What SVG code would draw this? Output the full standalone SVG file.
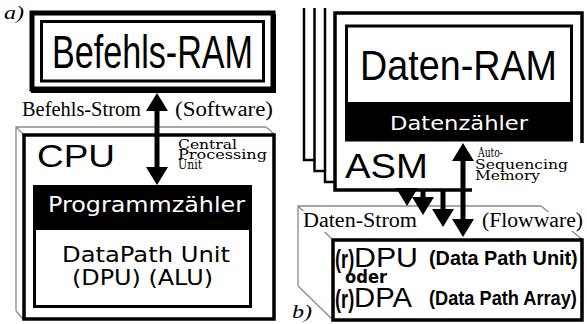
<svg xmlns="http://www.w3.org/2000/svg" xmlns:xlink="http://www.w3.org/1999/xlink" width="587" height="324" viewBox="0 0 587 324">
<style>
.serif{font-family:"Liberation Serif","Times New Roman",serif;}
.small{font-family:"DejaVu Serif","Liberation Serif",serif;}
.ital{font-family:"Liberation Serif","Times New Roman",serif;font-style:italic;}
.cond{font-family:"Liberation Sans Narrow","Liberation Sans",Arial,sans-serif;}
.condb{font-family:"Liberation Sans Narrow","Liberation Sans",Arial,sans-serif;font-weight:bold;}
.thin{font-family:"Liberation Sans",Arial,sans-serif;font-weight:300;}
.hum{font-family:"DejaVu Sans",Verdana,sans-serif;}
.humb{font-family:"DejaVu Sans",Verdana,sans-serif;font-weight:bold;}
.frame{fill:#fff;stroke:#000;}
.ghost{fill:none;stroke:#8a8a8a;stroke-width:1.3;}
.page{fill:none;stroke:#000;stroke-width:2.5;}
.shaft{stroke:#000;stroke-width:5;fill:none;}
.mask{fill:#fff;}
</style>
<defs>
  <!-- arrowhead pointing down, tip at origin -->
  <path id="ahd" d="M-11,-18 L11,-18 L0,0 Z" fill="#000"/>
</defs>
<rect width="587" height="324" fill="#fff"/>

<!-- a) -->
<text class="ital" x="4" y="19" font-size="19" textLength="20" lengthAdjust="spacingAndGlyphs">a)</text>

<g id="befehls-ram">
  <rect class="frame" x="32" y="13" width="241" height="76" stroke-width="5"/>
  <path d="M275,14 V92 H31" fill="none" stroke="#000" stroke-width="2"/>
  <rect class="frame" x="41.5" y="21.5" width="222" height="59.5" stroke-width="3"/>
  <text class="cond" x="52" y="68" font-size="46" textLength="201" lengthAdjust="spacingAndGlyphs">Befehls-RAM</text>
</g>

<text class="serif" x="22" y="116" font-size="20" textLength="119" lengthAdjust="spacingAndGlyphs">Befehls-Strom</text>
<text class="serif" x="175" y="116" font-size="20" textLength="98" lengthAdjust="spacingAndGlyphs">(Software)</text>

<g id="cpu">
  <path class="ghost" d="M16,311 V127 H266 M16,127 L23,134 M266,127 L274,134 M16,311 L23,319"/>
  <rect class="frame" x="24" y="135" width="250" height="184" stroke-width="3.5"/>
  <text class="thin" x="37" y="167" font-size="32" textLength="78" lengthAdjust="spacingAndGlyphs">CPU</text>
  <text class="small" font-size="12.5">
    <tspan x="178" y="148.5" textLength="59" lengthAdjust="spacingAndGlyphs">Central</tspan>
    <tspan x="178" y="158.5" textLength="89" lengthAdjust="spacingAndGlyphs">Processing</tspan>
    <tspan x="178" y="168.5" textLength="24" lengthAdjust="spacingAndGlyphs">Unit</tspan>
  </text>
</g>

<g id="dpu-a">
  <rect class="frame" x="34.5" y="186.5" width="216" height="120" stroke-width="3"/>
  <rect x="33" y="185" width="219" height="45" fill="#000"/>
  <text class="hum" x="48" y="212" font-size="21" fill="#fff" textLength="197" lengthAdjust="spacingAndGlyphs">Programmzähler</text>
  <text class="hum" x="62" y="262" font-size="21" textLength="168" lengthAdjust="spacingAndGlyphs">DataPath Unit</text>
  <text class="hum" x="72" y="285" font-size="21" textLength="141" lengthAdjust="spacingAndGlyphs">(DPU)  (ALU)</text>
</g>

<!-- b) -->
<g id="asm">
  <path class="page" d="M304,8 V160 H314.5"/>
  <path class="page" d="M314.5,8 V171 H325"/>
  <path class="page" d="M325,8 V182 H335"/>
  <rect x="335" y="13" width="247" height="177" fill="#fff"/>
  <path d="M472,190 H335 V13 H582 V143" fill="none" stroke="#000" stroke-width="3.5"/>
  <text class="thin" x="345" y="178" font-size="35" textLength="83" lengthAdjust="spacingAndGlyphs">ASM</text>
  <text class="small" font-size="12.5">
    <tspan x="478" y="157" textLength="25" lengthAdjust="spacingAndGlyphs">Auto-</tspan>
    <tspan x="475" y="169" textLength="93" lengthAdjust="spacingAndGlyphs">Sequencing</tspan>
    <tspan x="475" y="180" textLength="65" lengthAdjust="spacingAndGlyphs">Memory</tspan>
  </text>
</g>

<g id="daten-ram">
  <rect class="frame" x="346.5" y="26" width="225" height="114" stroke-width="3"/>
  <rect x="345" y="102" width="228" height="39" fill="#000"/>
  <text class="cond" x="360" y="80" font-size="42" textLength="197" lengthAdjust="spacingAndGlyphs">Daten-RAM</text>
  <text class="hum" x="390" y="130" font-size="20" fill="#fff" textLength="138" lengthAdjust="spacingAndGlyphs">Datenzähler</text>
</g>

<g id="dpu-b">
  <path class="ghost" d="M298,286 V206 H541 M298,206 L333,240 M541,206 L583,240 M298,286 L333,320"/>
  <rect class="mask" x="300" y="211" width="120" height="21"/>
  <rect class="mask" x="480" y="212" width="107" height="19"/>
  <text class="serif" x="303" y="227" font-size="20" textLength="114" lengthAdjust="spacingAndGlyphs">Daten-Strom</text>
  <text class="serif" x="482" y="227" font-size="20" textLength="101" lengthAdjust="spacingAndGlyphs">(Flowware)</text>
  <rect class="frame" x="333" y="240" width="249" height="80" stroke-width="3.5"/>
  <text class="condb" transform="translate(335,268) scale(0.8,1)" font-size="25" textLength="24" lengthAdjust="spacingAndGlyphs">(r)</text>
  <text class="thin" x="354" y="267" font-size="27" textLength="64" lengthAdjust="spacingAndGlyphs">DPU</text>
  <text class="condb" transform="translate(429,265) scale(0.88,1)" font-size="21" textLength="169" lengthAdjust="spacingAndGlyphs">(Data Path Unit)</text>
  <text class="humb" x="345" y="283" font-size="17" textLength="42" lengthAdjust="spacingAndGlyphs">oder</text>
  <text class="condb" transform="translate(335,308) scale(0.8,1)" font-size="25" textLength="24" lengthAdjust="spacingAndGlyphs">(r)</text>
  <text class="thin" x="354" y="307" font-size="27" textLength="58" lengthAdjust="spacingAndGlyphs">DPA</text>
  <text class="condb" transform="translate(429,305) scale(0.88,1)" font-size="21" textLength="168" lengthAdjust="spacingAndGlyphs">(Data Path Array)</text>
</g>

<text class="ital" x="292" y="318" font-size="19" textLength="20" lengthAdjust="spacingAndGlyphs">b)</text>

<g id="connectors">
  <!-- instruction stream -->
  <line class="shaft" x1="157" y1="110" x2="157" y2="168"/>
  <use xlink:href="#ahd" transform="translate(157,93) rotate(180)"/>
  <use xlink:href="#ahd" transform="translate(157,185)"/>
  <!-- data streams -->
  <use xlink:href="#ahd" transform="translate(407,206)"/>
  <line class="shaft" x1="423" y1="190" x2="423" y2="199"/>
  <use xlink:href="#ahd" transform="translate(423,215)"/>
  <line class="shaft" x1="443" y1="190" x2="443" y2="211"/>
  <use xlink:href="#ahd" transform="translate(443,227)"/>
  <line class="shaft" x1="463" y1="160" x2="463" y2="221"/>
  <use xlink:href="#ahd" transform="translate(463,143) rotate(180)"/>
  <use xlink:href="#ahd" transform="translate(463,237)"/>
</g>
</svg>
